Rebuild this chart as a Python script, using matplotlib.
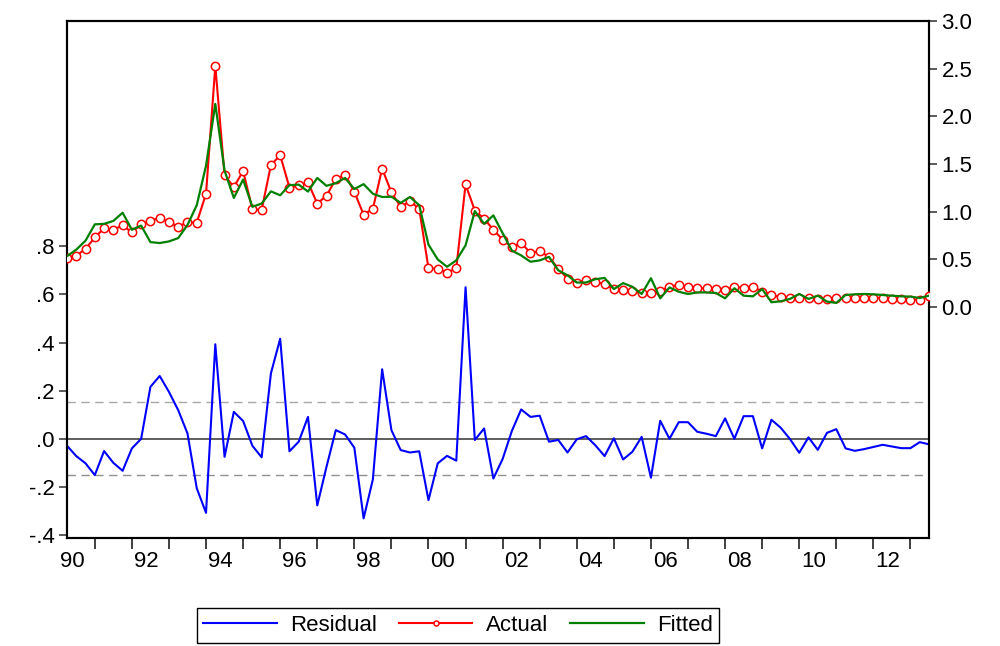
import numpy as np
import matplotlib
matplotlib.use("Agg")
import matplotlib.pyplot as plt

plt.rcParams['font.family'] = ['Liberation Sans', 'DejaVu Sans']

# quarterly sample 1990Q2 - 2013Q3
start_year = 1990.25
actual = [0.516, 0.540, 0.609, 0.730, 0.826, 0.810, 0.857, 0.782, 0.872, 0.903,
          0.937, 0.888, 0.844, 0.888, 0.885, 1.188, 2.528, 1.382, 1.258, 1.426,
          1.027, 1.017, 1.489, 1.592, 1.253, 1.275, 1.307, 1.085, 1.168, 1.341,
          1.389, 1.209, 0.968, 1.030, 1.451, 1.203, 1.051, 1.110, 1.030, 0.406,
          0.402, 0.360, 0.406, 1.286, 1.012, 0.927, 0.810, 0.706, 0.629, 0.671,
          0.569, 0.585, 0.526, 0.402, 0.298, 0.257, 0.285, 0.264, 0.240, 0.188,
          0.181, 0.168, 0.143, 0.147, 0.168, 0.215, 0.230, 0.209, 0.199, 0.195,
          0.184, 0.179, 0.210, 0.202, 0.212, 0.160, 0.129, 0.101, 0.095, 0.095,
          0.098, 0.085, 0.085, 0.091, 0.091, 0.095, 0.098, 0.098, 0.095, 0.088,
          0.081, 0.075, 0.078, 0.119]
fitted = [0.533, 0.602, 0.696, 0.867, 0.872, 0.903, 0.989, 0.810, 0.854, 0.681,
          0.671, 0.688, 0.723, 0.861, 1.068, 1.482, 2.130, 1.431, 1.144, 1.337,
          1.051, 1.085, 1.213, 1.172, 1.278, 1.284, 1.211, 1.354, 1.271, 1.299,
          1.354, 1.237, 1.289, 1.188, 1.154, 1.157, 1.092, 1.154, 1.068, 0.654,
          0.499, 0.422, 0.489, 0.647, 1.006, 0.872, 0.961, 0.774, 0.592, 0.541,
          0.475, 0.489, 0.526, 0.385, 0.333, 0.257, 0.257, 0.292, 0.305, 0.188,
          0.251, 0.212, 0.137, 0.302, 0.091, 0.205, 0.160, 0.137, 0.153, 0.153,
          0.147, 0.091, 0.197, 0.119, 0.112, 0.188, 0.050, 0.060, 0.085, 0.137,
          0.085, 0.119, 0.057, 0.043, 0.126, 0.133, 0.137, 0.133, 0.126, 0.119,
          0.112, 0.109, 0.095, 0.119]
residual = [-0.029, -0.072, -0.102, -0.151, -0.051, -0.100, -0.133, -0.040, 0.000, 0.216,
            0.261, 0.195, 0.119, 0.022, -0.206, -0.308, 0.393, -0.075, 0.112, 0.074,
            -0.029, -0.077, 0.272, 0.416, -0.052, -0.012, 0.091, -0.277, -0.116, 0.036,
            0.018, -0.037, -0.331, -0.169, 0.289, 0.036, -0.047, -0.057, -0.052, -0.255,
            -0.102, -0.071, -0.091, 0.630, -0.005, 0.043, -0.165, -0.084, 0.033, 0.122,
            0.091, 0.096, -0.012, -0.005, -0.057, -0.002, 0.011, -0.027, -0.072, 0.002,
            -0.086, -0.054, 0.008, -0.162, 0.075, 0.000, 0.069, 0.069, 0.029, 0.021,
            0.011, 0.085, 0.000, 0.094, 0.094, -0.040, 0.079, 0.046, -0.001, -0.058,
            0.006, -0.046, 0.025, 0.040, -0.040, -0.050, -0.043, -0.034, -0.025, -0.032,
            -0.039, -0.039, -0.014, -0.023]
resid_se = 0.152

left_ticks = [-0.4, -0.2, 0.0, 0.2, 0.4, 0.6, 0.8]
left_labels = ['-.4', '-.2', '.0', '.2', '.4', '.6', '.8']
right_ticks = [0.0, 0.5, 1.0, 1.5, 2.0, 2.5, 3.0]
year_labels = ['90', '92', '94', '96', '98', '00', '02', '04', '06', '08', '10', '12']

t = start_year + 0.25 * np.arange(len(actual))

fig = plt.figure(figsize=(10, 6.46), dpi=100)
ax = fig.add_axes([0.067, 0.167, 0.862, 0.8005])
ax2 = ax.twinx()

# residual panel (left axis)
ax.axhline(0, color='#505050', lw=1.3, zorder=1)
ax.axhline(resid_se, color='#a8a8a8', lw=1.0, ls=(0, (6, 4)), zorder=1)
ax.axhline(-resid_se, color='#909090', lw=1.0, ls=(0, (6, 4)), zorder=1)
l1, = ax.plot(t, residual, color='#0000ff', lw=1.5, zorder=3)

# actual / fitted (right axis)
l2, = ax2.plot(t, actual, color='#ff0000', lw=1.5, marker='o', ms=6,
               mfc='white', mec='#ff0000', mew=1.1, zorder=3)
l3, = ax2.plot(t, fitted, color='#008000', lw=1.6, zorder=4)

ax.set_xlim(t[0], t[-1])
ax.set_ylim(-0.413, 1.737)
ax2.set_ylim(-2.424, 3.0)

ax.set_yticks(left_ticks)
ax.set_yticklabels(left_labels)
ax2.set_yticks(right_ticks)
ax2.set_yticklabels(['%.1f' % v for v in right_ticks])

years = np.arange(1991, 2014)
ax.set_xticks(years)
ax.set_xticklabels([])
ax.set_xticks([y + 0.38 for y in range(1990, 2013, 2)], minor=True)
ax.set_xticklabels(year_labels, minor=True)
ax.tick_params(axis='x', which='major', direction='out', length=8, width=1.2, color='#202020')
ax.tick_params(axis='x', which='minor', length=0, labelsize=16, pad=9)
ax.tick_params(axis='y', direction='out', length=6, width=1.2, color='#404040', labelsize=16, pad=3)
ax2.tick_params(axis='y', direction='out', length=6, width=1.2, color='#404040', labelsize=16, pad=3)

for a in (ax, ax2):
    for s in a.spines.values():
        s.set_linewidth(1.5)
        s.set_color('black')

fig.legend([l1, l2, l3], ['Residual', 'Actual', 'Fitted'], loc='center',
           bbox_to_anchor=(0.458, 1 - 625.5 / 646), ncol=3, fontsize=16,
           frameon=True, fancybox=False, edgecolor='black', framealpha=1,
           handlelength=3.3, columnspacing=1.0, handletextpad=0.6,
           borderpad=0.3, markerscale=0.6)

fig.savefig('out.png', dpi=100)
